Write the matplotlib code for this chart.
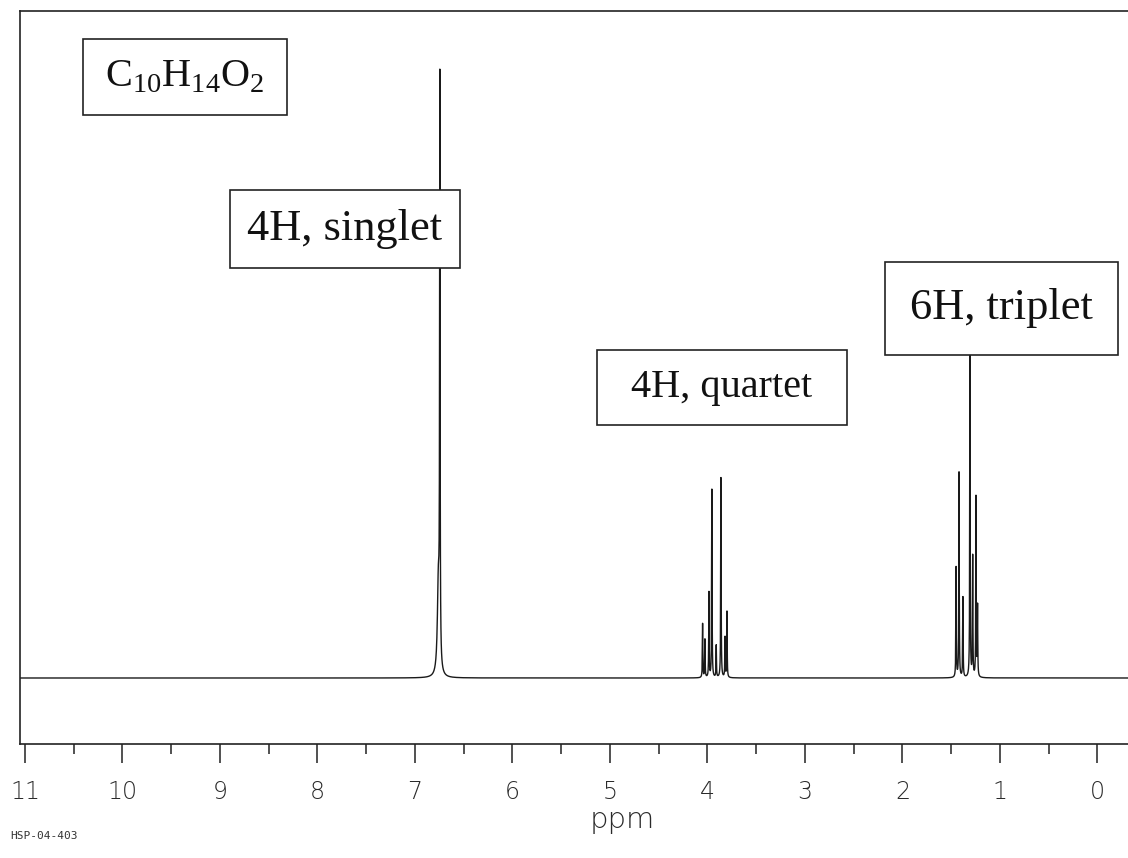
import matplotlib as mpl
mpl.use('Agg')
import matplotlib.pyplot as plt
import numpy as np

plt.rcParams['mathtext.fontset'] = 'custom'
plt.rcParams['mathtext.rm'] = 'Liberation Serif'

# peak lines: (ppm, height), baseline = 0
singlet_ppm = [6.745, 6.760]
singlet_h = [572, 95]
quartet_ppm = [4.050, 4.026, 3.985, 3.955, 3.910, 3.862, 3.820, 3.800]
quartet_h = [54, 38, 85, 188, 32, 200, 40, 66]
triplet_ppm = [1.450, 1.420, 1.380, 1.308, 1.280, 1.246, 1.230]
triplet_h = [110, 205, 80, 322, 120, 180, 70]

major_ticks = list(range(0, 12))
minor_ticks = [i + 0.5 for i in range(0, 11)]

labels = ['4H, singlet', '4H, quartet', '6H, triplet']

W, H = 1128, 858
fig = plt.figure(figsize=(W / 100, H / 100), dpi=100)

def fx(x):
    return x / W

def fy(y):
    return 1 - y / H

ax = fig.add_axes([fx(20), fy(744), 1 - fx(20), fy(11) - fy(744)])

ppm = np.linspace(-0.4, 11.2, 80000)
spec = np.zeros_like(ppm)
for p, h, w in zip(singlet_ppm, singlet_h, [0.0028, 0.012]):
    spec += h / (1 + ((ppm - p) / w) ** 2)
for p, h in zip(quartet_ppm + triplet_ppm, quartet_h + triplet_h):
    spec += h / (1 + ((ppm - p) / 0.0025) ** 2)

ax.plot(ppm, spec, color='#1a1a1a', lw=1.0)

ax.set_xlim(11.051, -0.313)
ax.set_ylim(-66, 667)
ax.set_yticks([])
ax.set_xticks(major_ticks)
ax.set_xticks(minor_ticks, minor=True)
ax.set_xticklabels([str(t) for t in major_ticks], fontsize=17, color='#2a2a2a',
                   family='DejaVu Sans', fontweight='light')
ax.tick_params(axis='x', which='major', direction='out', length=14, width=1.1,
               pad=12, color='#222222')
ax.tick_params(axis='x', which='minor', direction='out', length=7, width=1.1,
               color='#222222')
ax.spines['right'].set_visible(False)
for s in ['left', 'top', 'bottom']:
    ax.spines[s].set_linewidth(1.2)
    ax.spines[s].set_color('#222222')

# label boxes (pixel positions from the reference)
boxes = [
    ('C$_{10}$H$_{14}$O$_2$', 83, 39, 287, 115, 29),
    (labels[0], 230, 190, 460, 268, 32),
    (labels[1], 597, 350, 847, 425, 29),
    (labels[2], 885, 262, 1118, 355, 32),
]
for txt, x0, y0, x1, y1, fs in boxes:
    rect = plt.Rectangle((fx(x0), fy(y1)), fx(x1) - fx(x0), fy(y0) - fy(y1),
                         transform=fig.transFigure, facecolor='white',
                         edgecolor='#222222', lw=1.2, zorder=5)
    fig.patches.append(rect)
    fig.text(fx((x0 + x1) / 2), fy((y0 + y1) / 2), txt, ha='center', va='center',
             fontsize=fs, family='Liberation Serif', color='#111111', zorder=6)

fig.text(fx(622), fy(820), 'ppm', ha='center', va='center', fontsize=21,
         color='#2a2a2a', family='DejaVu Sans', fontweight='light')
fig.text(fx(10), fy(836), 'HSP-04-403', ha='left', va='center', fontsize=8,
         color='#333333', family='DejaVu Sans Mono')

fig.savefig('out.png', dpi=100, facecolor='white')
